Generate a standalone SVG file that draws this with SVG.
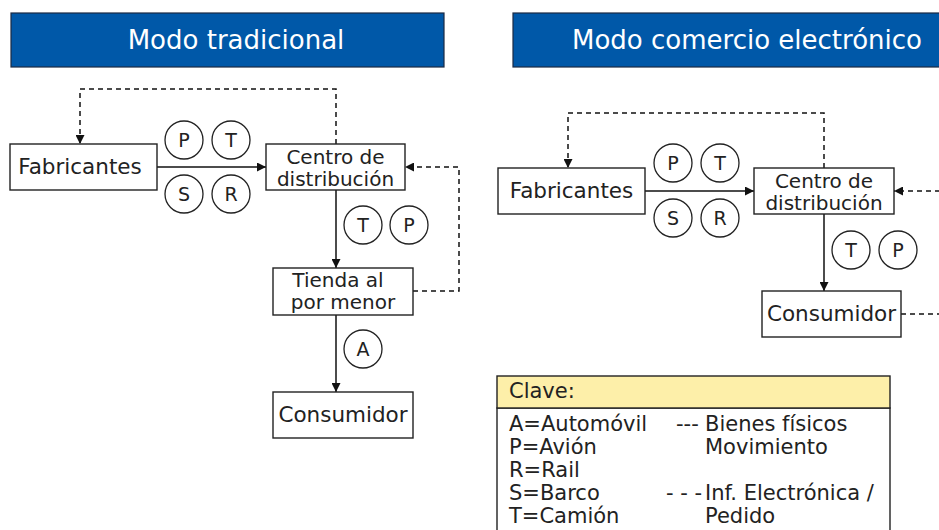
<svg xmlns="http://www.w3.org/2000/svg" width="939" height="530" viewBox="0 0 939 530">
<defs>
<style>
text{font-family:"DejaVu Sans","Liberation Sans",sans-serif;fill:#222}
.title rect{fill:#0058A8;stroke:#1b2a44;stroke-width:1.2}
.title text{fill:#fff;font-size:26px}
.node rect{fill:#fff;stroke:#222;stroke-width:1.4}
.node text{font-size:21.5px;text-anchor:middle}
.node text.two{font-size:20px}
.mode circle{fill:#fff;stroke:#222;stroke-width:1.3}
.mode text{font-size:19px;text-anchor:middle}
.conn path{fill:none;stroke:#111;stroke-width:1.5}
.conn .dash{stroke-dasharray:5 4}
.key text{font-size:21px}
</style>
<marker id="arr" viewBox="0 0 10 10" refX="10" refY="5" markerWidth="9" markerHeight="9" orient="auto" markerUnits="userSpaceOnUse"><path d="M0,0 L10,5 L0,10 z" fill="#111"/></marker>
</defs>
<rect width="939" height="530" fill="#fff"/>

<g id="title-left" class="title"><rect x="11" y="13" width="433" height="54"/><text x="236" y="49" text-anchor="middle">Modo tradicional</text></g>
<g id="title-right" class="title"><rect x="513" y="13" width="430" height="54"/><text x="572" y="49">Modo comercio electrónico</text></g>

<g id="connectors" class="conn">
<path d="M157,167 H266" marker-end="url(#arr)"/>
<path d="M336,190 V268" marker-end="url(#arr)"/>
<path d="M336,315 V392" marker-end="url(#arr)"/>
<path class="dash" d="M336,144 V89 H80 V144" marker-end="url(#arr)"/>
<path class="dash" d="M413,291 H459 V167 H405" marker-end="url(#arr)"/>
<path d="M645,191 H754" marker-end="url(#arr)"/>
<path d="M824,214 V291" marker-end="url(#arr)"/>
<path class="dash" d="M824,168 V113 H568 V168" marker-end="url(#arr)"/>
<path class="dash" d="M940,191 H894" marker-end="url(#arr)"/>
<path class="dash" d="M901,314 H940"/>
</g>

<g id="l-fabricantes" class="node"><rect x="10" y="144" width="147" height="46"/><text x="80" y="174">Fabricantes</text></g>
<g id="l-centro" class="node"><rect x="266" y="144" width="139" height="46"/><text class="two" x="335.5" y="164">Centro de</text><text class="two" x="335.5" y="186">distribución</text></g>
<g id="l-tienda" class="node"><rect x="273" y="268" width="140" height="47"/><text class="two" x="338" y="287">Tienda al</text><text class="two" x="343" y="309">por menor</text></g>
<g id="l-consumidor" class="node"><rect x="273" y="392" width="140" height="46"/><text x="343" y="422">Consumidor</text></g>

<g id="r-fabricantes" class="node"><rect x="498" y="168" width="147" height="46"/><text x="571.5" y="198">Fabricantes</text></g>
<g id="r-centro" class="node"><rect x="754" y="168" width="140" height="46"/><text class="two" x="824" y="188">Centro de</text><text class="two" x="824" y="210">distribución</text></g>
<g id="r-consumidor" class="node"><rect x="762" y="291" width="139" height="46"/><text x="831.5" y="321">Consumidor</text></g>

<g id="l-modes-fc" class="mode">
<circle cx="184" cy="140" r="19"/><text x="184" y="147">P</text>
<circle cx="231" cy="140" r="19"/><text x="231" y="147">T</text>
<circle cx="184" cy="194" r="19"/><text x="184" y="201">S</text>
<circle cx="231" cy="194" r="19"/><text x="231" y="201">R</text>
</g>
<g id="l-modes-ct" class="mode">
<circle cx="363" cy="225" r="19"/><text x="363" y="232">T</text>
<circle cx="409" cy="225" r="19"/><text x="409" y="232">P</text>
</g>
<g id="l-modes-tc" class="mode">
<circle cx="363" cy="349" r="19"/><text x="363" y="356">A</text>
</g>
<g id="r-modes-fc" class="mode">
<circle cx="673" cy="163" r="19"/><text x="673" y="170">P</text>
<circle cx="720" cy="163" r="19"/><text x="720" y="170">T</text>
<circle cx="673" cy="218" r="19"/><text x="673" y="225">S</text>
<circle cx="720" cy="218" r="19"/><text x="720" y="225">R</text>
</g>
<g id="r-modes-cc" class="mode">
<circle cx="851" cy="250" r="19"/><text x="851" y="257">T</text>
<circle cx="898" cy="250" r="19"/><text x="898" y="257">P</text>
</g>

<g id="key" class="key">
<rect x="497" y="408" width="393" height="130" fill="#fff" stroke="#222" stroke-width="1.4"/>
<rect x="497" y="376" width="393" height="32" fill="#FDEFA9" stroke="#222" stroke-width="1.4"/>
<text x="509" y="398">Clave:</text>
<text x="509" y="431">A=Automóvil</text>
<text x="509" y="454">P=Avión</text>
<text x="509" y="477">R=Rail</text>
<text x="509" y="500">S=Barco</text>
<text x="509" y="523">T=Camión</text>
<text x="676" y="431">---</text>
<text x="705" y="431">Bienes físicos</text>
<text x="705" y="454">Movimiento</text>
<text x="666" y="500">- - -</text>
<text x="705" y="500">Inf. Electrónica /</text>
<text x="705" y="523">Pedido</text>
</g>
</svg>
